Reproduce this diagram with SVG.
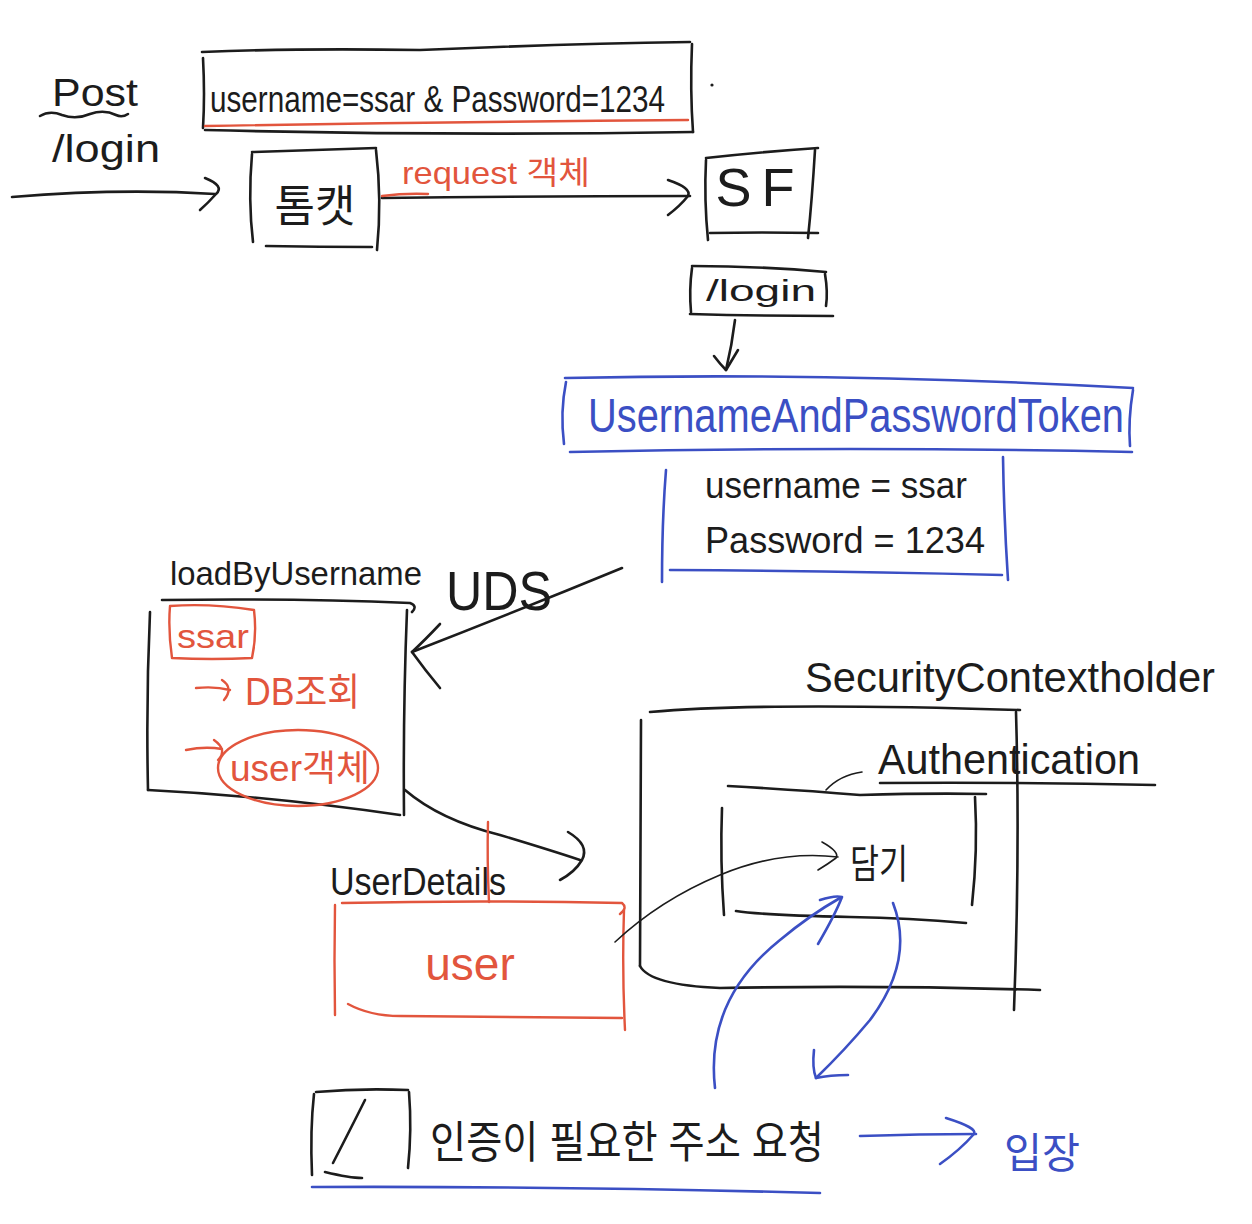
<svg xmlns="http://www.w3.org/2000/svg" width="1252" height="1224" viewBox="0 0 1252 1224">
<defs>
<style>
.k{fill:none;stroke:#1c1c1c;stroke-width:2.6;stroke-linecap:round;stroke-linejoin:round}
.kt{fill:none;stroke:#1c1c1c;stroke-width:1.6;stroke-linecap:round;stroke-linejoin:round}
.r{fill:none;stroke:#e2553d;stroke-width:2.4;stroke-linecap:round;stroke-linejoin:round}
.b{fill:none;stroke:#3b4fc4;stroke-width:2.6;stroke-linecap:round;stroke-linejoin:round}
text{font-family:"Liberation Sans","Noto Sans CJK KR",sans-serif;font-weight:normal}
.tk{fill:#1c1c1c}
.tr{fill:#e2553d}
.tb{fill:#3b4fc4}
</style>
</defs>
<rect width="1252" height="1224" fill="#ffffff"/>

<g id="post-login">
<text class="tk" x="52" y="106" font-size="38" textLength="86" lengthAdjust="spacingAndGlyphs">Post</text>
<path class="k" d="M40 116 Q50 110 62 115 Q76 120 90 114 Q104 109 116 115 Q122 118 128 114"/>
<text class="tk" x="52" y="162" font-size="38" textLength="108" lengthAdjust="spacingAndGlyphs">/login</text>
</g>

<g id="request-body">
<path class="k" d="M203 58 Q205 95 203 128"/>
<path class="k" d="M202 52 Q300 48 420 50 Q560 44 690 42"/>
<path class="k" d="M692 44 Q690 90 693 132"/>
<path class="k" d="M205 130 Q450 136 693 132"/>
<path class="r" d="M205 126 Q440 122 688 120"/>
<text class="tk" x="210" y="112" font-size="36" textLength="455" lengthAdjust="spacingAndGlyphs">username=ssar &amp; Password=1234</text>
<circle cx="712" cy="85" r="1.6" fill="#1c1c1c"/>
</g>

<g id="tomcat">
<path class="k" d="M252 152 Q310 150 376 148"/>
<path class="k" d="M252 154 Q248 200 253 242"/>
<path class="k" d="M376 150 Q382 200 377 250"/>
<path class="k" d="M266 246 Q320 247 372 247"/>
<text class="tk" x="315" y="222" font-size="44" text-anchor="middle">톰캣</text>
</g>

<g id="sf">
<path class="k" d="M706 158 Q760 152 818 148"/>
<path class="k" d="M706 160 Q704 200 708 240"/>
<path class="k" d="M815 150 Q812 200 808 238"/>
<path class="k" d="M710 233 Q760 232 818 233"/>
<text class="tk" x="760" y="206" font-size="54" text-anchor="middle" letter-spacing="10">SF</text>
</g>

<g id="login-filter">
<path class="k" d="M692 266 Q760 266 826 272"/>
<path class="k" d="M692 268 Q689 290 691 312"/>
<path class="k" d="M825 274 Q828 292 826 306"/>
<path class="k" d="M690 314 Q760 316 833 316"/>
<text class="tk" x="706" y="301" font-size="30" textLength="110" lengthAdjust="spacingAndGlyphs">/login</text>
</g>

<g id="token">
<path class="b" d="M565 378 Q840 372 1133 388"/>
<path class="b" d="M566 382 Q560 412 564 444"/>
<path class="b" d="M1133 390 Q1128 420 1130 446"/>
<path class="b" d="M570 452 Q850 446 1132 452"/>
<text class="tb" x="588" y="432" font-size="48" textLength="536" lengthAdjust="spacingAndGlyphs">UsernameAndPasswordToken</text>
<path class="b" d="M666 470 Q662 520 662 582"/>
<path class="b" d="M1003 457 Q1004 520 1008 580"/>
<path class="b" d="M670 570 Q840 571 1002 575"/>
<text class="tk" x="705" y="498" font-size="36" textLength="262" lengthAdjust="spacingAndGlyphs">username = ssar</text>
<text class="tk" x="705" y="553" font-size="36" textLength="280" lengthAdjust="spacingAndGlyphs">Password = 1234</text>
</g>

<g id="uds">
<text class="tk" x="170" y="585" font-size="34" textLength="252" lengthAdjust="spacingAndGlyphs">loadByUsername</text>
<text class="tk" x="446" y="610" font-size="56" textLength="106" lengthAdjust="spacingAndGlyphs">UDS</text>
<path class="k" d="M162 600 Q290 598 410 603 Q418 606 412 612"/>
<path class="k" d="M150 612 Q146 700 148 790"/>
<path class="k" d="M407 610 Q403 710 404 815"/>
<path class="k" d="M148 790 Q270 796 400 815"/>
<path class="r" d="M170 606 Q210 603 254 610 Q257 635 252 658 Q212 660 172 658 Q168 630 170 606"/>
<text class="tr" x="177" y="648" font-size="34" textLength="72" lengthAdjust="spacingAndGlyphs">ssar</text>
<path class="r" d="M196 688 Q215 686 230 690 M222 680 Q234 688 224 700"/>
<text class="tr" x="245" y="705" font-size="38" textLength="115" lengthAdjust="spacingAndGlyphs">DB조회</text>
<path class="r" d="M186 750 Q205 746 222 749 M214 740 Q228 750 218 760"/>
<ellipse class="r" cx="298" cy="768" rx="80" ry="38"/>
<text class="tr" x="230" y="781" font-size="36" textLength="140" lengthAdjust="spacingAndGlyphs">user객체</text>
</g>

<g id="userdetails">
<text class="tk" x="330" y="895" font-size="38" textLength="176" lengthAdjust="spacingAndGlyphs">UserDetails</text>
<path class="r" d="M342 903 Q480 900 622 903 Q628 908 620 914"/>
<path class="r" d="M335 905 Q334 960 335 1015"/>
<path class="r" d="M624 910 Q622 970 625 1030"/>
<path class="r" d="M348 1004 Q370 1016 400 1016 Q510 1017 622 1018"/>
<text class="tr" x="470" y="980" font-size="46" text-anchor="middle">user</text>
</g>

<g id="security-context-holder">
<text class="tk" x="805" y="692" font-size="42" textLength="410" lengthAdjust="spacingAndGlyphs">SecurityContextholder</text>
<path class="k" d="M650 712 Q760 702 1020 710"/>
<path class="k" d="M641 720 Q640 850 640 966"/>
<path class="k" d="M1016 712 Q1020 850 1014 1010"/>
<path class="k" d="M640 966 Q650 985 720 988 Q880 985 1040 990"/>
</g>

<g id="authentication">
<text class="tk" x="878" y="774" font-size="42" textLength="262" lengthAdjust="spacingAndGlyphs">Authentication</text>
<path class="k" d="M880 783 Q1020 782 1155 785"/>
<path class="kt" d="M826 790 Q840 775 862 772"/>
<path class="k" d="M728 786 Q800 790 860 795 Q930 793 986 794"/>
<path class="k" d="M722 808 Q720 860 724 915"/>
<path class="k" d="M975 797 Q978 850 972 905"/>
<path class="k" d="M736 911 Q760 915 850 917 Q910 918 966 923"/>
<text class="tk" x="850" y="878" font-size="40" textLength="58" lengthAdjust="spacingAndGlyphs">담기</text>
</g>

<g id="request-auth">
<path class="k" d="M316 1092 Q360 1088 408 1090"/>
<path class="k" d="M314 1094 Q310 1130 312 1175"/>
<path class="k" d="M409 1092 Q412 1130 408 1168"/>
<path class="k" d="M325 1172 Q350 1178 362 1178"/>
<path class="k" d="M365 1100 Q350 1130 333 1163"/>
<text class="tk" x="430" y="1158" font-size="44" textLength="394" lengthAdjust="spacingAndGlyphs">인증이 필요한 주소 요청</text>
<path class="b" d="M312 1187 Q560 1186 820 1193"/>
</g>

<g id="enter">
<text class="tb" x="1004" y="1168" font-size="42" textLength="76" lengthAdjust="spacingAndGlyphs">입장</text>
</g>

<g id="connectors">
<path class="k" d="M12 197 Q120 188 215 194"/>
<path class="k" d="M205 178 Q225 186 216 194 Q208 203 200 210"/>
<path class="k" d="M382 198 Q540 196 690 196"/>
<path class="r" d="M382 196 Q405 193 428 194"/>
<text class="tr" x="402" y="184" font-size="32" textLength="188" lengthAdjust="spacingAndGlyphs">request 객체</text>
<path class="k" d="M668 180 Q692 188 688 196 Q680 206 668 215"/>
<path class="k" d="M735 320 Q732 345 726 370"/>
<path class="k" d="M714 356 Q720 364 726 370 Q732 360 738 350"/>
<path class="k" d="M622 568 Q520 610 412 652"/>
<path class="k" d="M440 624 Q425 640 412 652 Q425 670 440 688"/>
<path class="k" d="M405 790 Q440 820 500 835 Q550 850 580 860"/>
<path class="k" d="M568 832 Q590 845 582 860 Q575 872 560 880"/>
<path class="r" d="M488 822 Q487 860 489 902"/>
<path class="kt" d="M615 942 Q660 900 720 875 Q780 850 838 857"/>
<path class="kt" d="M822 842 Q840 852 836 858 Q828 864 818 870"/>
<path class="b" d="M715 1088 Q705 1000 780 940 Q810 915 840 898"/>
<path class="b" d="M820 900 Q835 895 842 897 Q835 915 818 944"/>
<path class="b" d="M893 903 Q915 960 870 1020 Q845 1050 816 1078"/>
<path class="b" d="M814 1050 Q812 1068 816 1078 Q830 1075 848 1075"/>
<path class="b" d="M860 1136 Q920 1134 976 1134"/>
<path class="b" d="M946 1118 Q978 1128 974 1134 Q960 1150 940 1164"/>
</g>
</svg>
